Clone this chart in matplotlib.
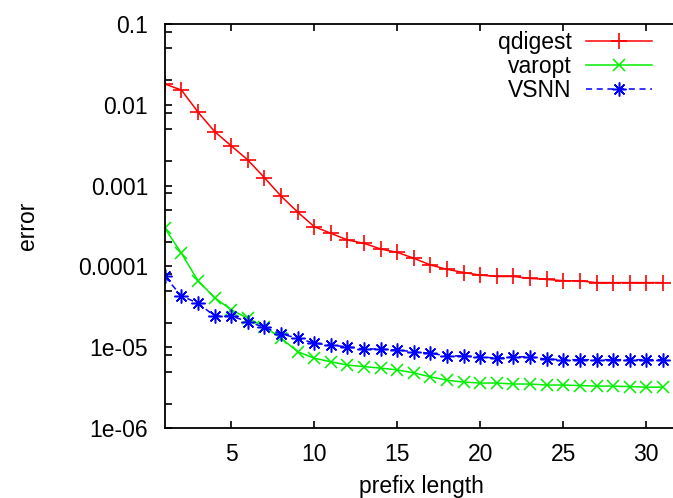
import matplotlib
matplotlib.use("Agg")
import matplotlib.pyplot as plt
from matplotlib.ticker import FixedLocator, FixedFormatter, LogLocator, NullFormatter

plt.rcParams['font.family'] = ['Liberation Sans', 'DejaVu Sans']

prefix = list(range(1, 32))

qdigest = [0.0181, 0.0152, 0.0081, 0.00465, 0.0031, 0.00207, 0.00125, 0.00074,
           0.00047, 0.00031, 0.000257, 0.000212, 0.000193, 0.000164, 0.000149,
           0.000126, 0.000104, 9.2e-5, 8.4e-5, 7.8e-5, 7.5e-5, 7.5e-5, 7.1e-5,
           6.9e-5, 6.65e-5, 6.6e-5, 6.3e-5, 6.3e-5, 6.3e-5, 6.3e-5, 6.3e-5]
varopt = [2.96e-4, 1.45e-4, 6.6e-5, 4.1e-5, 2.9e-5, 2.28e-5, 1.8e-5, 1.29e-5,
          8.8e-6, 7.3e-6, 6.6e-6, 6.0e-6, 5.75e-6, 5.5e-6, 5.24e-6, 4.8e-6,
          4.3e-6, 3.9e-6, 3.7e-6, 3.6e-6, 3.6e-6, 3.5e-6, 3.5e-6, 3.4e-6,
          3.4e-6, 3.35e-6, 3.3e-6, 3.3e-6, 3.25e-6, 3.2e-6, 3.2e-6]
vsnn = [7.5e-5, 4.3e-5, 3.5e-5, 2.43e-5, 2.43e-5, 2.07e-5, 1.76e-5, 1.46e-5,
        1.29e-5, 1.12e-5, 1.06e-5, 1.01e-5, 9.5e-6, 9.5e-6, 9.2e-6, 8.8e-6,
        8.4e-6, 7.8e-6, 7.8e-6, 7.6e-6, 7.3e-6, 7.6e-6, 7.6e-6, 7.1e-6,
        7.0e-6, 7.0e-6, 7.0e-6, 7.0e-6, 7.0e-6, 7.0e-6, 7.0e-6]

ytick_vals = [1e-6, 1e-5, 1e-4, 1e-3, 1e-2, 1e-1]
ytick_labels = ["1e-06", "1e-05", "0.0001", "0.001", "0.01", "0.1"]
xtick_vals = [5, 10, 15, 20, 25, 30]

fig = plt.figure(figsize=(6.73, 4.98), dpi=100)
# axes run past the right edge, like the cropped original
ax = fig.add_axes([0.245, 0.1406, 0.777, 0.8112])

ax.plot(prefix, qdigest, color='#ff0000', lw=1.1, marker='+', ms=11, mew=1.2,
        label='qdigest')
ax.plot(prefix, varopt, color='#00ee00', lw=1.1, marker='x', ms=9, mew=1.1,
        label='varopt')
ax.plot(prefix, vsnn, color='#0000ff', lw=1.1, ls=(0, (4, 3)), marker=(8, 2, 0),
        ms=10, mew=1.1, label='VSNN')

ax.set_yscale('log')
ax.set_xlim(1, 32.5)
ax.set_ylim(1e-6, 0.1)

ax.yaxis.set_major_locator(FixedLocator(ytick_vals))
ax.yaxis.set_major_formatter(FixedFormatter(ytick_labels))
ax.yaxis.set_minor_locator(LogLocator(base=10, subs=(2, 5, 8)))
ax.yaxis.set_minor_formatter(NullFormatter())
ax.set_xticks(xtick_vals)

ax.tick_params(which='both', direction='in', top=True, right=True,
               length=5, width=1.2, labelsize=16.5)
ax.tick_params(axis='y', which='both', pad=12)
ax.tick_params(axis='x', which='both', pad=11)
for s in ax.spines.values():
    s.set_linewidth(1.3)

ax.set_xlabel('prefix length', fontsize=16.5)
ax.xaxis.set_label_coords(0.491, -0.117)
ax.set_ylabel('error', fontsize=16.5, labelpad=28)

ax.legend(loc='upper right', bbox_to_anchor=(652 / 673, 1 - 31 / 498),
          bbox_transform=fig.transFigure, frameon=False, markerfirst=False,
          fontsize=16.5, handlelength=2.9, handletextpad=0.6, labelspacing=0.05,
          borderpad=0, borderaxespad=0)

fig.savefig('out.png', dpi=100)
